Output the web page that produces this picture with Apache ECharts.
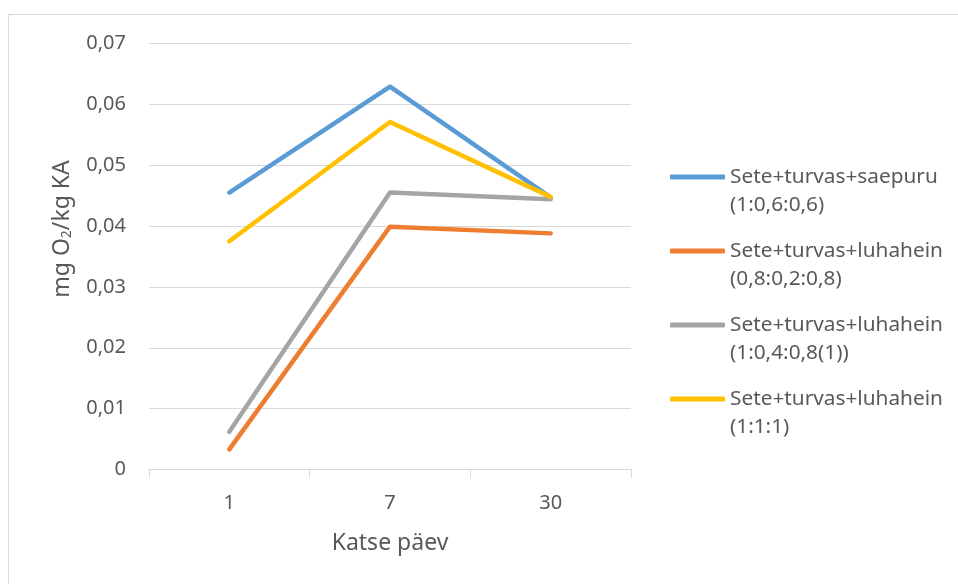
<!DOCTYPE html>
<html>
<head>
<meta charset="utf-8">
<script src="https://cdn.jsdelivr.net/npm/echarts@6/dist/echarts.min.js"></script>
<style>
  html, body { margin: 0; padding: 0; background: #ffffff; }
  #chart { width: 958px; height: 584px; }
</style>
</head>
<body>
<div id="chart"></div>
<script>
// Test days (category axis)
const days = ['1', '7', '30'];

// Oxygen consumption, mg O2 / kg KA
const seriesNames = [
  'Sete+turvas+saepuru\n(1:0,6:0,6)',
  'Sete+turvas+luhahein\n(0,8:0,2:0,8)',
  'Sete+turvas+luhahein\n(1:0,4:0,8(1))',
  'Sete+turvas+luhahein\n(1:1:1)'
];
const saepuru = [0.0455, 0.0629, 0.0447];
const luhahein082 = [0.0033, 0.0399, 0.0388];
const luhahein048 = [0.0062, 0.0455, 0.0444];
const luhahein111 = [0.0375, 0.0571, 0.0448];

const colors = ['#5B9BD5', '#ED7D31', '#A5A5A5', '#FFC000'];
const valuesList = [saepuru, luhahein082, luhahein048, luhahein111];

const FONT = '"Noto Sans", sans-serif';
const TEXT = '#595959';
const GRIDC = '#d9d9d9';

// one legend block per series, stacked down the right side;
// a blank first line keeps the swatch level with the first text line
const legendTops = [130, 204, 278, 352];
const legends = seriesNames.map((name, i) => ({
  orient: 'vertical',
  left: 665,
  top: legendTops[i],
  itemWidth: 55,
  itemHeight: 5,
  icon: 'roundRect',
  data: [name],
  formatter: n => ' \n' + n,
  textStyle: {
    fontFamily: FONT,
    fontSize: 20.8,
    color: TEXT,
    lineHeight: 28
  }
}));

const chart = echarts.init(document.getElementById('chart'), null, { renderer: 'canvas' });

chart.setOption({
  backgroundColor: '#ffffff',
  animation: false,
  textStyle: { fontFamily: FONT },
  grid: { left: 149, right: 327, top: 43.5, bottom: 114.5, containLabel: false },
  graphic: [
    {
      type: 'rect',
      shape: { x: 8.5, y: 14.5, width: 1200, height: 1200 },
      style: { fill: 'none', stroke: GRIDC, lineWidth: 1 },
      silent: true,
      z: -10
    },
    {
      type: 'text',
      x: 62,
      y: 229,
      rotation: Math.PI / 2,
      style: {
        text: '{a|mg O}{s|2}{a|/kg KA}',
        align: 'center',
        verticalAlign: 'middle',
        fill: TEXT,
        rich: {
          a: { fontFamily: FONT, fontSize: 23, fill: TEXT },
          s: { fontFamily: FONT, fontSize: 14, fill: TEXT, padding: [11, 0, 0, 0] }
        }
      }
    }
  ],
  legend: legends,
  xAxis: {
    type: 'category',
    data: days,
    boundaryGap: true,
    axisLine: { show: true, lineStyle: { color: GRIDC, width: 1 } },
    axisTick: { show: true, length: 8, lineStyle: { color: GRIDC } },
    axisLabel: { color: TEXT, fontSize: 20, fontFamily: FONT, margin: 24 },
    name: 'Katse päev',
    nameLocation: 'middle',
    nameGap: 62,
    nameTextStyle: { color: TEXT, fontSize: 23, fontFamily: FONT },
    splitLine: { show: false }
  },
  yAxis: {
    type: 'value',
    min: 0,
    max: 0.07,
    interval: 0.01,
    axisLine: { show: false },
    axisTick: { show: false },
    axisLabel: {
      color: TEXT,
      fontSize: 20,
      fontFamily: FONT,
      margin: 23,
      formatter: v => (v === 0 ? '0' : v.toFixed(2).replace('.', ','))
    },
    splitLine: { show: true, lineStyle: { color: GRIDC, width: 1 } }
  },
  series: valuesList.map((vals, i) => ({
    name: seriesNames[i],
    type: 'line',
    data: vals,
    showSymbol: false,
    symbol: 'none',
    color: colors[i],
    lineStyle: { color: colors[i], width: 4.5, cap: 'round', join: 'round' },
    itemStyle: { color: colors[i] },
    emphasis: { disabled: true }
  }))
});
</script>
</body>
</html>
